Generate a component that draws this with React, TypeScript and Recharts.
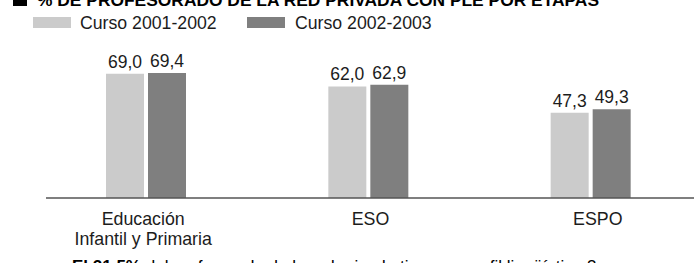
import React from 'react';
import { BarChart, Bar, XAxis, YAxis, LabelList } from 'recharts';

const categories = ['Educación\nInfantil y Primaria', 'ESO', 'ESPO'];
const curso2001 = [69.0, 62.0, 47.3];
const curso2002 = [69.4, 62.9, 49.3];
const seriesNames = ['Curso 2001-2002', 'Curso 2002-2003'];
const titleText = '% DE PROFESORADO DE LA RED PRIVADA CON PLE POR ETAPAS';
const noteBold = 'El 21,5%';
const noteRest = ' del profesorado de la red privada tiene un perfil lingüístico 3';

const data = categories.map((c, i) => ({ name: c, a: curso2001[i], b: curso2002[i] }));

const FONT = '"Liberation Sans", Arial, Helvetica, sans-serif';
const LIGHT = '#cbcbcb';
const DARK = '#7f7f7f';
const TXT = '#1c1c1c';
const tickShift = [-3, 2, 7];

const fmt = (v: any) => Number(v).toFixed(1).replace('.', ',');

const Tick = (props: any) => {
  const { x, y, payload, index } = props;
  const lines = String(payload.value).split('\n');
  const cx = x + (tickShift[index] || 0);
  return (
    <text x={cx} y={y} textAnchor="middle" fontFamily={FONT} fontSize={17.8} fill={TXT}>
      {lines.map((l, i) => (
        <tspan key={i} x={cx} dy={i === 0 ? 19 : 20}>{l}</tspan>
      ))}
    </text>
  );
};

export default function App() {
  return (
    <div style={{ position: 'absolute', left: 0, top: 0, width: 694, height: 263, overflow: 'hidden', background: '#fff' }}>
      <BarChart
        width={694}
        height={263}
        data={data}
        margin={{ top: 18, right: 0, bottom: 0, left: 46 }}
        barSize={38}
        barGap={4}
      >
        <XAxis
          dataKey="name"
          interval={0}
          padding={{ left: -11, right: -8 }}
          height={65}
          tickLine={false}
          axisLine={{ stroke: '#555555', strokeWidth: 1.5 }}
          tick={<Tick />}
        />
        <YAxis hide domain={[0, 100]} />
        <Bar dataKey="a" name={seriesNames[0]} fill={LIGHT} isAnimationActive={false}>
          <LabelList dataKey="a" position="top" offset={6} formatter={fmt} fontFamily={FONT} fontSize={17.5} fill={TXT} />
        </Bar>
        <Bar dataKey="b" name={seriesNames[1]} fill={DARK} isAnimationActive={false}>
          <LabelList dataKey="b" position="top" offset={6} formatter={fmt} fontFamily={FONT} fontSize={17.5} fill={TXT} />
        </Bar>
      </BarChart>
      <svg width={694} height={263} style={{ position: 'absolute', left: 0, top: 0, pointerEvents: 'none' }}>
        <rect x={13} y={-8} width={14} height={14} fill="#000" />
        <text x={37} y={6} fontFamily={FONT} fontWeight="bold" fontSize={17.4} fill="#000">{titleText}</text>
        <rect x={33} y={17} width={38} height={11} fill={LIGHT} />
        <text x={80} y={28.5} fontFamily={FONT} fontSize={17.7} fill={TXT}>{seriesNames[0]}</text>
        <rect x={247} y={17} width={38} height={11} fill={DARK} />
        <text x={295} y={28.5} fontFamily={FONT} fontSize={17.7} fill={TXT}>{seriesNames[1]}</text>
        <text x={72} y={272} fontFamily={FONT} fontSize={17} fill="#000">
          <tspan fontWeight="bold">{noteBold}</tspan>
          <tspan>{noteRest}</tspan>
        </text>
      </svg>
    </div>
  );
}
